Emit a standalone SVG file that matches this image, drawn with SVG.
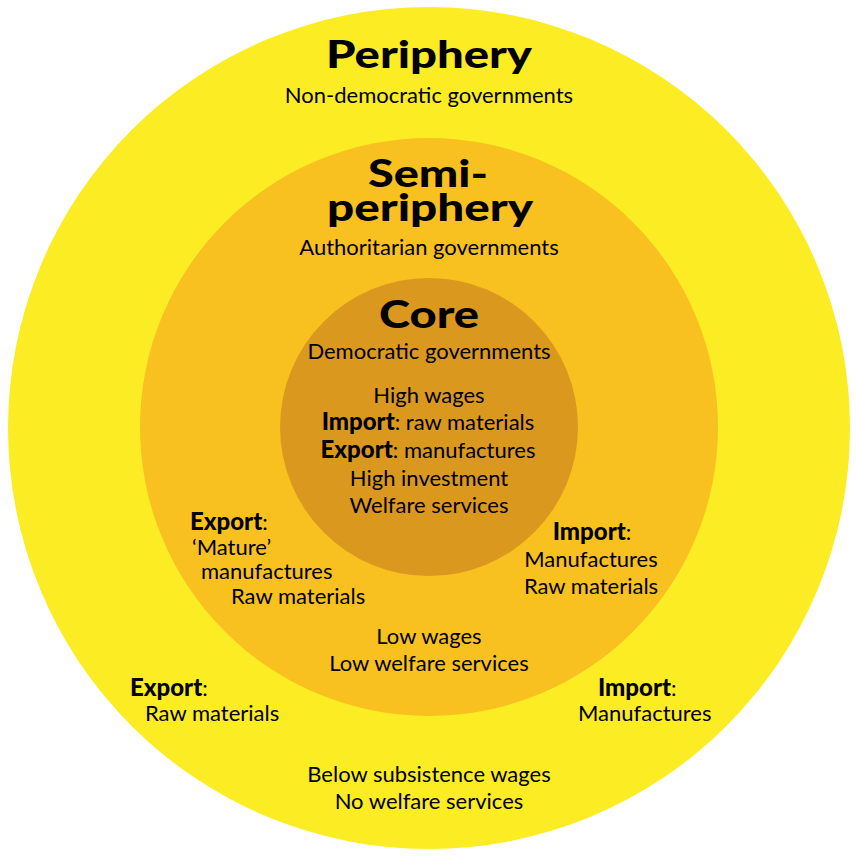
<svg xmlns="http://www.w3.org/2000/svg" width="856" height="857" viewBox="0 0 856 857">
<style>
text{font-family:Lato,"Open Sans","Liberation Sans",sans-serif;fill:#000;}
.h{font-size:38px;font-weight:900;text-anchor:middle;}
.t{font-size:22px;}
.c{text-anchor:middle;}
.b{font-weight:900;font-size:24px;}
</style>
<rect width="856" height="857" fill="#ffffff"/>
<g id="periphery">
<circle cx="429" cy="428" r="421" fill="#FCEC24"/>
<text class="h" x="429" y="68" textLength="206" lengthAdjust="spacingAndGlyphs">Periphery</text>
<text class="t c" x="429" y="103">Non-democratic governments</text>
</g>
<g id="semi-periphery">
<circle cx="429" cy="427" r="289" fill="#F8C11F"/>
<text class="h"><tspan x="428" y="187" textLength="120" lengthAdjust="spacingAndGlyphs">Semi-</tspan><tspan x="430" y="221" textLength="206" lengthAdjust="spacingAndGlyphs">periphery</tspan></text>
<text class="t c" x="429" y="255">Authoritarian governments</text>
</g>
<g id="core">
<circle cx="429" cy="427" r="149" fill="#DB981F"/>
<text class="h" x="429" y="328" textLength="100" lengthAdjust="spacingAndGlyphs">Core</text>
<text class="t c" x="429" y="359">Democratic governments</text>
<text class="t c" x="429" y="403">High wages</text>
<text class="t c" x="428" y="430"><tspan class="b">Import</tspan>: raw materials</text>
<text class="t c" x="428" y="458"><tspan class="b">Export</tspan>: manufactures</text>
<text class="t c" x="429" y="486">High investment</text>
<text class="t c" x="429" y="513">Welfare services</text>
</g>
<g id="semi-periphery-trade">
<text class="t" x="190" y="530"><tspan class="b">Export</tspan>:</text>
<text class="t" x="192" y="555">‘Mature’</text>
<text class="t" x="201" y="579">manufactures</text>
<text class="t" x="231" y="604">Raw materials</text>
<text class="t c" x="592" y="540"><tspan class="b">Import</tspan>:</text>
<text class="t c" x="591" y="567">Manufactures</text>
<text class="t c" x="591" y="594">Raw materials</text>
<text class="t c" x="429" y="644">Low wages</text>
<text class="t c" x="429" y="671">Low welfare services</text>
</g>
<g id="periphery-trade">
<text class="t" x="130" y="696"><tspan class="b">Export</tspan>:</text>
<text class="t" x="145" y="721">Raw materials</text>
<text class="t" x="598" y="696"><tspan class="b">Import</tspan>:</text>
<text class="t" x="578" y="721">Manufactures</text>
<text class="t c" x="429" y="782">Below subsistence wages</text>
<text class="t c" x="429" y="809">No welfare services</text>
</g>
</svg>
